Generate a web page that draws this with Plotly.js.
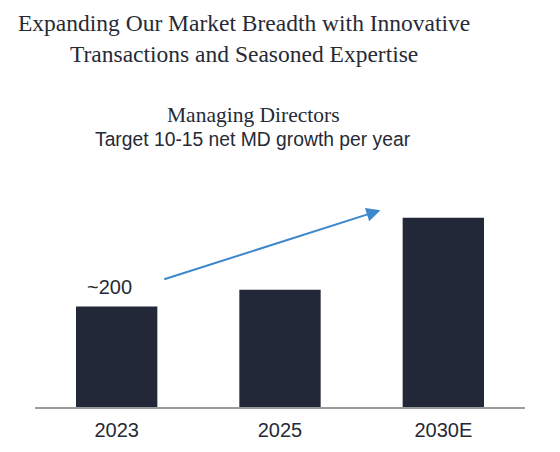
<!DOCTYPE html>
<html>
<head>
<meta charset="utf-8">
<script src="https://cdn.plot.ly/plotly-3.0.1.min.js"></script>
<style>html,body{margin:0;padding:0;background:#fff;}#chart{width:560px;height:452px;}</style>
</head>
<body>
<div id="chart"></div>
<script>
// Data
const categories = ["2023", "2025", "2030E"];
const mdCounts = [200, 233, 376];
const labelText = ["~200", "", ""];
const titleLines = ["Expanding Our Market Breadth with Innovative", "Transactions and Seasoned Expertise"];
const subtitle = "Managing Directors";
const subSubtitle = "Target 10-15 net MD growth per year";

const dark = "#232838";
const textColor = "#262a36";
const serif = "Liberation Serif, Times New Roman, serif";
const sans = "Liberation Sans, Arial, sans-serif";

const xIdx = categories.map((c, i) => i);

const trace = {
  type: "bar",
  x: xIdx,
  y: mdCounts,
  width: 0.498,
  marker: {color: dark},
  hoverinfo: "none"
};

const layout = {
  width: 560, height: 452,
  margin: {l: 35, r: 35, t: 200, b: 45},
  paper_bgcolor: "#ffffff",
  plot_bgcolor: "#ffffff",
  showlegend: false,
  xaxis: {
    type: "linear", range: [-0.5, 2.5],
    tickmode: "array", tickvals: xIdx, ticktext: categories,
    showline: true, linecolor: "#9a9a9a", linewidth: 1.5,
    ticks: "", showgrid: false, zeroline: false,
    ticklabelstandoff: 4,
    tickfont: {family: sans, size: 20, color: textColor}
  },
  yaxis: {visible: false, range: [0, 411.5], showgrid: false, zeroline: false},
  annotations: [
    {text: titleLines[0], xref: "paper", yref: "paper", x: 0.426, y: 1.857, xanchor: "center", yanchor: "middle", showarrow: false, font: {family: serif, size: 23.5, color: textColor}},
    {text: titleLines[1], xref: "paper", yref: "paper", x: 0.4265, y: 1.703, xanchor: "center", yanchor: "middle", showarrow: false, font: {family: serif, size: 23.5, color: textColor}},
    {text: subtitle, xref: "paper", yref: "paper", x: 0.446, y: 1.413, xanchor: "center", yanchor: "middle", showarrow: false, font: {family: serif, size: 21.5, color: textColor}},
    {text: subSubtitle, xref: "paper", yref: "paper", x: 0.445, y: 1.29, xanchor: "center", yanchor: "middle", showarrow: false, font: {family: sans, size: 19.3, color: textColor}},
    {text: labelText[0], xref: "x", yref: "y", x: xIdx[0], y: mdCounts[0], yanchor: "bottom", xshift: -7, yshift: 6, showarrow: false, font: {family: sans, size: 20, color: textColor}},
    {text: "", xref: "x", yref: "y", axref: "x", ayref: "y", x: 1.615, y: 391, ax: 0.282, ay: 253, showarrow: true, arrowhead: 2, arrowsize: 1.4, arrowwidth: 2, arrowcolor: "#3d87cc", standoff: 0, startstandoff: 0}
  ]
};

Plotly.newPlot("chart", [trace], layout, {displayModeBar: false, staticPlot: true});
</script>
</body>
</html>
